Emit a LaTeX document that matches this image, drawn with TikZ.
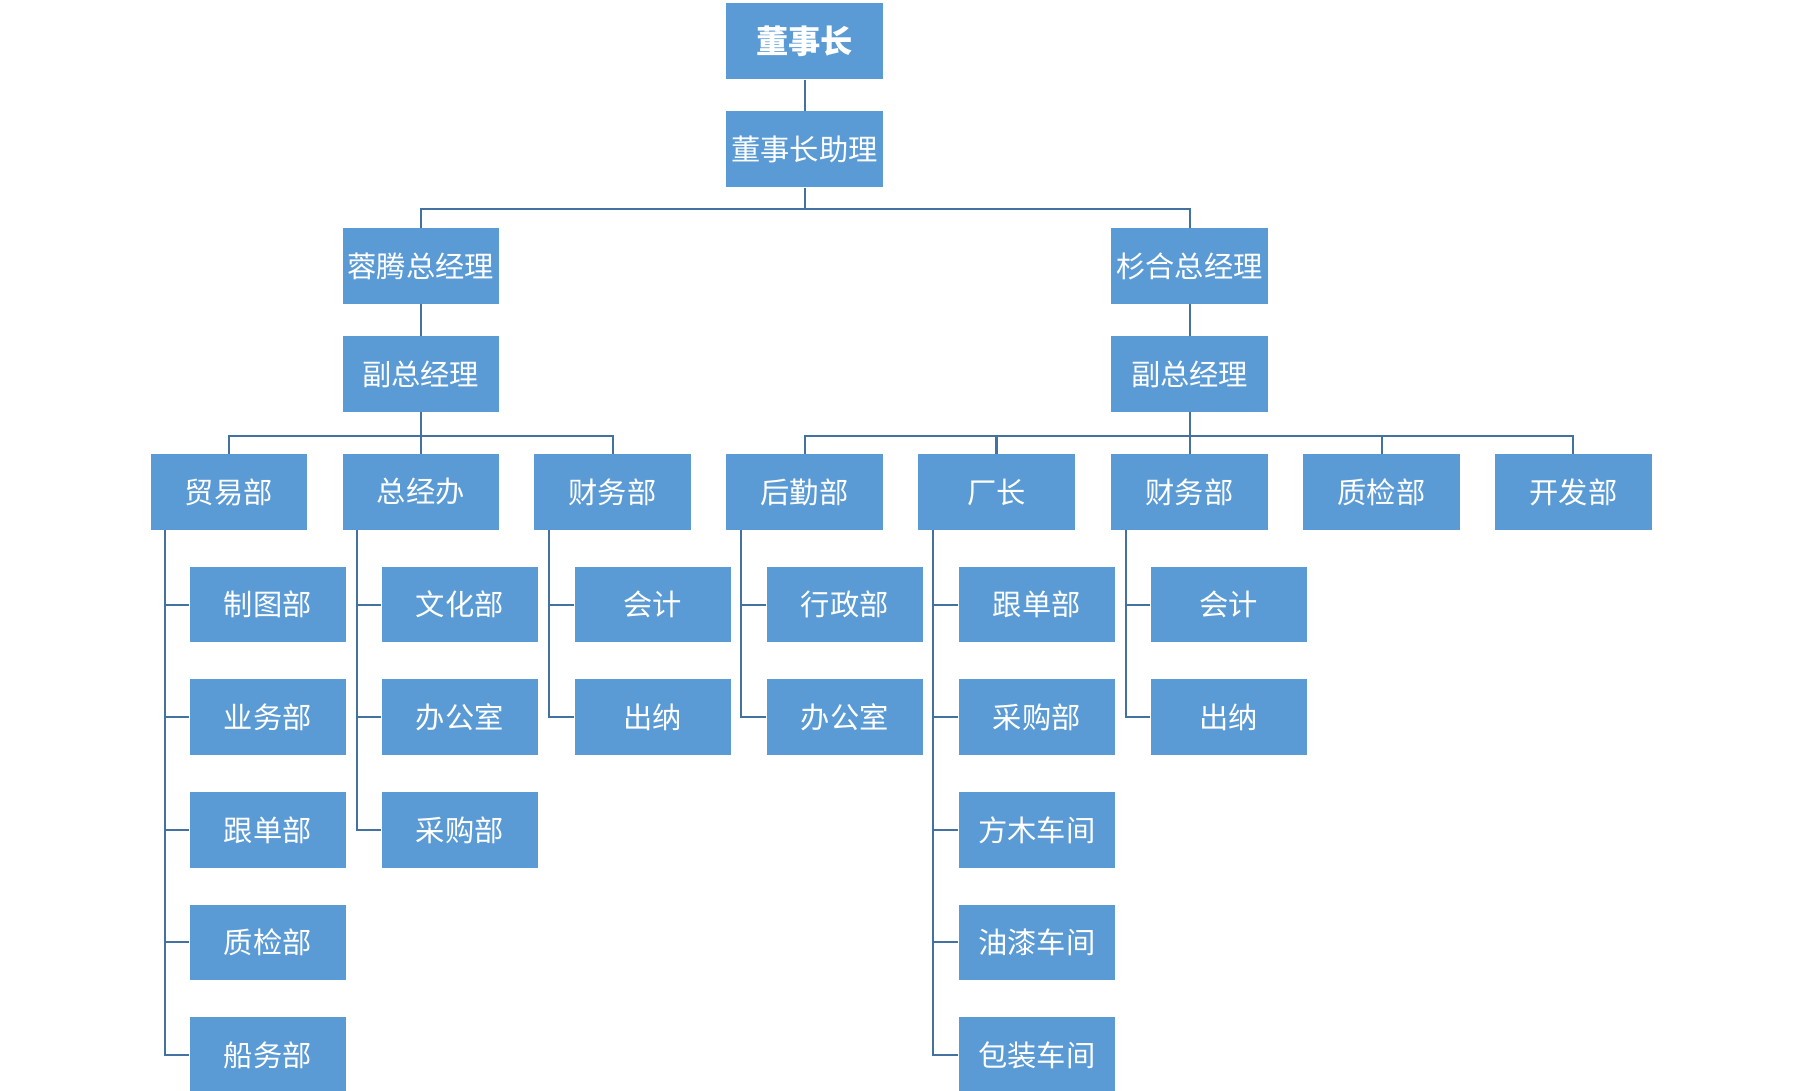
\documentclass[tikz,border=0pt]{standalone}
\usepackage{fontspec}
\newfontfamily\cjk{Noto Sans CJK SC}
\usepackage{tikz}
\usetikzlibrary{positioning}

\definecolor{boxblue}{RGB}{91,155,213}
\definecolor{lineblue}{RGB}{68,114,160}

\tikzset{
  unit/.style={fill=boxblue, text=white, minimum width=2.72cm, minimum height=1.32cm,
    inner sep=0pt, font=\cjk\fontsize{14.5pt}{16pt}\selectfont},
  head/.style={unit, font=\cjk\bfseries\fontsize{16pt}{18pt}\selectfont},
  link/.style={draw=lineblue, line width=0.035cm}
}

\begin{document}
\begin{tikzpicture}[x=0.02cm, y=-0.02cm]
  \useasboundingbox (0,0) rectangle (1560,949); %Fix page size

  \node[head] (ceo)  at (700,36)  {董事长};     %Top of the tree
  \node[unit] (asst) at (700,130) {董事长助理}; %Assistant

  \node[unit] (rt)  at (366,231.5)  {蓉腾总经理}; %Left company
  \node[unit] (sh)  at (1035,231.5) {杉合总经理}; %Right company
  \node[unit] (vpL) at (366,325.5)  {副总经理};   %Left deputy
  \node[unit] (vpR) at (1035,325.5) {副总经理};   %Right deputy

  \node[unit] (trade)   at (199,428)  {贸易部}; %Left departments
  \node[unit] (office)  at (366,428)  {总经办}; %Left departments
  \node[unit] (finL)    at (533,428)  {财务部}; %Left departments
  \node[unit] (logi)    at (700,428)  {后勤部}; %Right departments
  \node[unit] (factory) at (867,428)  {厂长};   %Right departments
  \node[unit] (finR)    at (1035,428) {财务部}; %Right departments
  \node[unit] (qcR)     at (1202,428) {质检部}; %Right departments
  \node[unit] (dev)     at (1369,428) {开发部}; %Right departments

  \node[unit] (draft) at (233,526) {制图部}; %Under trade
  \node[unit] (biz)   at (233,624) {业务部}; %Under trade
  \node[unit] (trackL) at (233,722) {跟单部}; %Under trade
  \node[unit] (qcL)   at (233,820) {质检部}; %Under trade
  \node[unit] (ship)  at (233,918) {船务部}; %Under trade

  \node[unit] (culture) at (400,526) {文化部}; %Under office
  \node[unit] (deskL)   at (400,624) {办公室}; %Under office
  \node[unit] (buyL)    at (400,722) {采购部}; %Under office

  \node[unit] (acctL) at (568,526) {会计}; %Under left finance
  \node[unit] (cashL) at (568,624) {出纳}; %Under left finance

  \node[unit] (admin) at (735,526) {行政部}; %Under logistics
  \node[unit] (deskR) at (735,624) {办公室}; %Under logistics

  \node[unit] (trackR) at (902,526) {跟单部};   %Under factory
  \node[unit] (buyR)   at (902,624) {采购部};   %Under factory
  \node[unit] (wood)   at (902,722) {方木车间}; %Under factory
  \node[unit] (paint)  at (902,820) {油漆车间}; %Under factory
  \node[unit] (pack)   at (902,918) {包装车间}; %Under factory

  \node[unit] (acctR) at (1069,526) {会计}; %Under right finance
  \node[unit] (cashR) at (1069,624) {出纳}; %Under right finance

  \coordinate (busTop) at (700,182);  %Bus under assistant
  \coordinate (busL)   at (366,379);  %Bus under left deputy
  \coordinate (busR)   at (1035,379); %Bus under right deputy

  \draw[link] (ceo) -- (asst);                 %Chairman to assistant
  \draw[link] (asst) -- (busTop);              %Assistant to bus
  \draw[link] (rt) |- (busTop) -| (sh);        %Bus to both companies
  \draw[link] (rt) -- (vpL);                   %Left company to deputy
  \draw[link] (sh) -- (vpR);                   %Right company to deputy

  \draw[link] (vpL) -- (busL);                 %Left deputy to bus
  \draw[link] (trade) |- (busL) -| (finL);     %Left bus ends
  \draw[link] (office) -- (busL);              %Left bus middle
  \draw[link] (vpR) -- (busR);                 %Right deputy to bus
  \draw[link] (logi) |- (busR) -| (dev);       %Right bus ends
  \draw[link] (factory) -- (factory |- busR);  %Right bus drop
  \draw[link] (finR) -- (busR);                %Right bus drop
  \draw[link] (qcR) -- (qcR |- busR);          %Right bus drop

  \draw[link] (trade.south west) ++(13,0) coordinate (tradeT) |- (ship);  %Trade spine
  \foreach \c in {draft,biz,trackL,qcL} \draw[link] (\c) -- (\c -| tradeT); %Trade stubs
  \draw[link] (office.south west) ++(13,0) coordinate (officeT) |- (buyL); %Office spine
  \foreach \c in {culture,deskL} \draw[link] (\c) -- (\c -| officeT);     %Office stubs
  \draw[link] (finL.south west) ++(13,0) coordinate (finLT) |- (cashL);   %Finance spine
  \draw[link] (acctL) -- (acctL -| finLT);                                %Finance stub
  \draw[link] (logi.south west) ++(13,0) coordinate (logiT) |- (deskR);   %Logistics spine
  \draw[link] (admin) -- (admin -| logiT);                                %Logistics stub
  \draw[link] (factory.south west) ++(13,0) coordinate (factT) |- (pack); %Factory spine
  \foreach \c in {trackR,buyR,wood,paint} \draw[link] (\c) -- (\c -| factT); %Factory stubs
  \draw[link] (finR.south west) ++(13,0) coordinate (finRT) |- (cashR);   %Finance spine
  \draw[link] (acctR) -- (acctR -| finRT);                                %Finance stub
\end{tikzpicture}
\end{document}
